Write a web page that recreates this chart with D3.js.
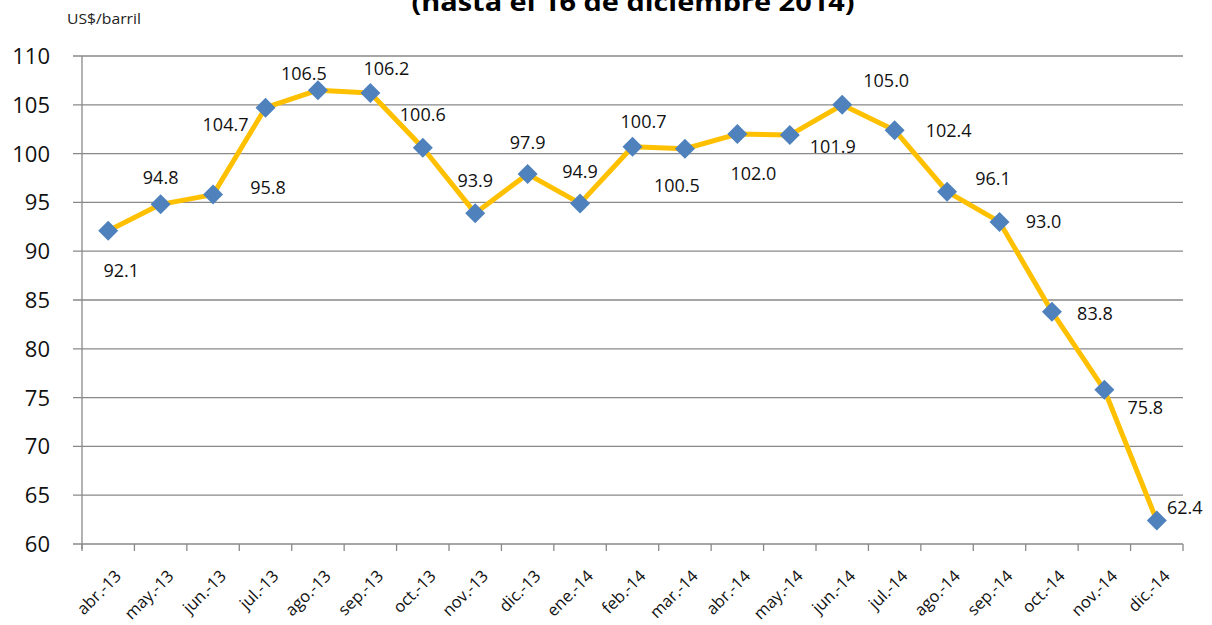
<!DOCTYPE html>
<html>
<head>
<meta charset="utf-8">
<script src="https://cdn.jsdelivr.net/npm/d3@7"></script>
<style>
  body { margin: 0; background: #fff; }
  svg { display: block; font-family: "Open Sans", sans-serif; }
</style>
</head>
<body>
<div id="chart"></div>
<script>
// monthly average price, US$/barril
const months = ['abr.-13', 'may.-13', 'jun.-13', 'jul.-13', 'ago.-13', 'sep.-13', 'oct.-13', 'nov.-13', 'dic.-13',
  'ene.-14', 'feb.-14', 'mar.-14', 'abr.-14', 'may.-14', 'jun.-14', 'jul.-14', 'ago.-14', 'sep.-14', 'oct.-14', 'nov.-14', 'dic.-14'];
const prices = [92.1, 94.8, 95.8, 104.7, 106.5, 106.2, 100.6, 93.9, 97.9, 94.9, 100.7, 100.5, 102.0, 101.9, 105.0, 102.4, 96.1, 93.0, 83.8, 75.8, 62.4];
const yTicks = [60, 65, 70, 75, 80, 85, 90, 95, 100, 105, 110];

// where each data label sits relative to its marker (px), as in the original
const labelOffsets = [[13, 40], [0, -27], [55, -7], [-40, 17], [-14, -17], [16, -25], [0, -33], [0, -33], [0, -32], [0, -32],
  [11, -25], [-8, 37], [16, 39], [43, 11], [44, -24], [54, 0], [46, -13], [44, 0], [43, 2], [41, 18], [28, -13]];

const width = 1212, height = 625;
const plot = {left: 82, right: 1183, top: 56, bottom: 544};

const svg = d3.select('#chart').append('svg')
  .attr('width', width)
  .attr('height', height);

const x = d3.scaleBand()
  .domain(months)
  .range([plot.left, plot.right])
  .padding(0);

const y = d3.scaleLinear()
  .domain([60, 110])
  .range([plot.bottom, plot.top]);

const cx = d => x(d) + x.bandwidth() / 2;

// title (its first line lies above the picture)
svg.append('text')
  .attr('x', 633)
  .attr('y', 11)
  .attr('text-anchor', 'middle')
  .attr('font-weight', 'bold')
  .attr('font-size', 25)
  .attr('textLength', 443)
  .attr('lengthAdjust', 'spacingAndGlyphs')
  .text('(hasta el 16 de diciembre 2014)');

svg.append('text')
  .attr('x', 67)
  .attr('y', 24)
  .attr('font-size', 14)
  .attr('textLength', 74)
  .attr('lengthAdjust', 'spacingAndGlyphs')
  .attr('fill', '#222')
  .text('US$/barril');

// gridlines
svg.append('g')
  .selectAll('line')
  .data(yTicks)
  .join('line')
    .attr('x1', plot.left - 9)
    .attr('x2', plot.right)
    .attr('y1', d => y(d))
    .attr('y2', d => y(d))
    .attr('stroke', '#898989')
    .attr('stroke-width', 1.3);

// y axis line
svg.append('line')
  .attr('x1', plot.left).attr('x2', plot.left)
  .attr('y1', plot.top).attr('y2', plot.bottom + 5)
  .attr('stroke', '#898989')
  .attr('stroke-width', 1.3);

svg.append('g')
  .selectAll('text')
  .data(yTicks)
  .join('text')
    .attr('x', 50)
    .attr('y', d => y(d))
    .attr('dy', '0.36em')
    .attr('text-anchor', 'end')
    .attr('font-size', 22)
    .attr('fill', '#111')
    .text(d => d);

// x axis ticks at band edges
const edges = months.map(m => x(m)).concat([plot.right]);
svg.append('g')
  .selectAll('line')
  .data(edges)
  .join('line')
    .attr('x1', d => d).attr('x2', d => d)
    .attr('y1', plot.bottom).attr('y2', plot.bottom + 7)
    .attr('stroke', '#898989')
    .attr('stroke-width', 1.3);

svg.append('g')
  .selectAll('text')
  .data(months)
  .join('text')
    .attr('transform', d => 'translate(' + (cx(d) + 10) + ',' + (plot.bottom + 29) + ') rotate(-45)')
    .attr('dy', '0.35em')
    .attr('text-anchor', 'end')
    .attr('font-size', 16.5)
    .attr('fill', '#111')
    .text(d => d);

// line
const line = d3.line()
  .x((d, i) => cx(months[i]))
  .y(d => y(d));

svg.append('path')
  .datum(prices)
  .attr('d', line)
  .attr('fill', 'none')
  .attr('stroke', '#FFC000')
  .attr('stroke-width', 5)
  .attr('stroke-linejoin', 'round');

// diamond markers
const marker = d3.symbol().type(d3.symbolSquare).size(200);
svg.append('g')
  .selectAll('path')
  .data(prices)
  .join('path')
    .attr('d', marker)
    .attr('transform', (d, i) => 'translate(' + cx(months[i]) + ',' + y(d) + ') rotate(45)')
    .attr('fill', '#4F81BD');

// data labels
svg.append('g')
  .selectAll('text')
  .data(prices)
  .join('text')
    .attr('x', (d, i) => cx(months[i]) + labelOffsets[i][0])
    .attr('y', (d, i) => y(d) + labelOffsets[i][1])
    .attr('dy', '0.36em')
    .attr('text-anchor', 'middle')
    .attr('font-size', 18)
    .attr('fill', '#111')
    .text(d => d.toFixed(1));
</script>
</body>
</html>
